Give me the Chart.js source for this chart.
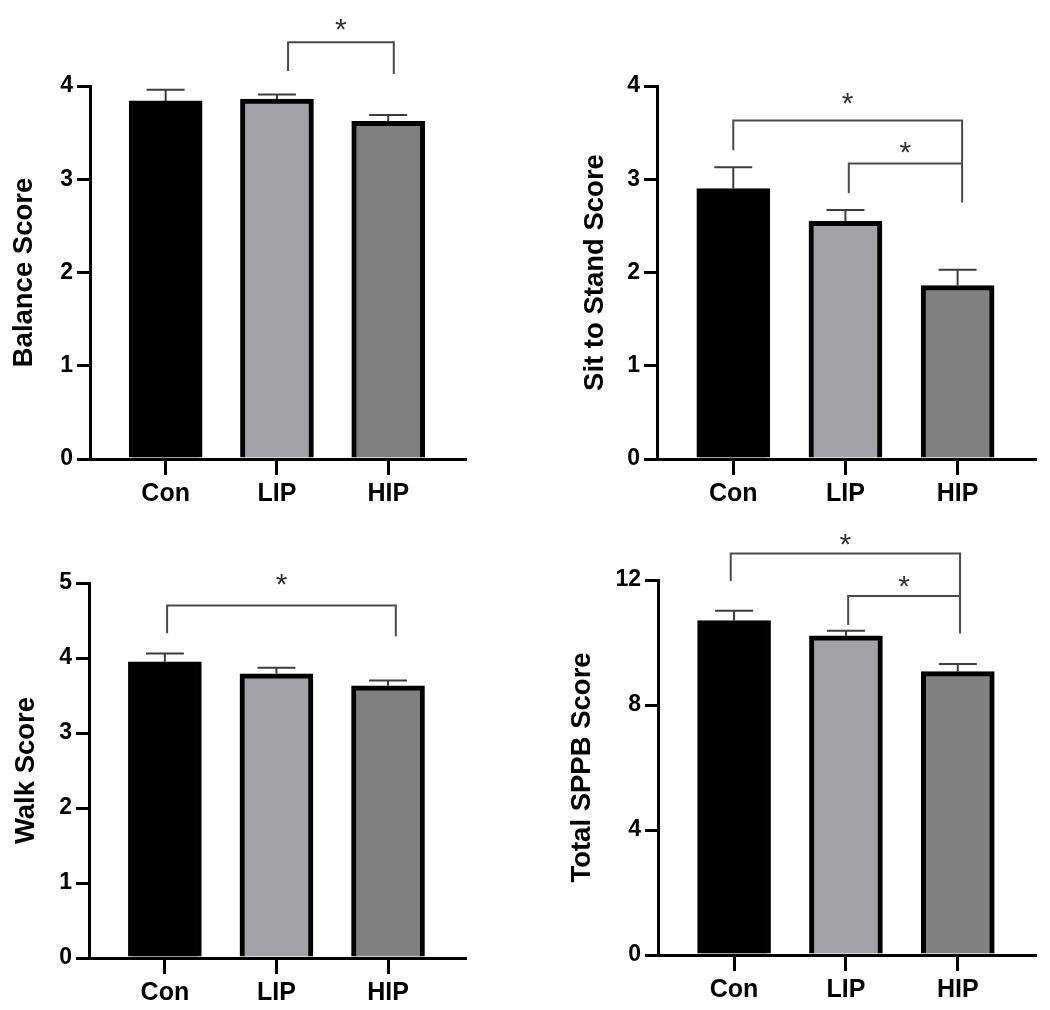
<!DOCTYPE html>
<html>
<head>
<meta charset="utf-8">
<script src="https://cdn.jsdelivr.net/npm/chart.js@4.4.0/dist/chart.umd.min.js"></script>
<style>
  body { margin: 0; background: #fff; }
  #wrap { position: relative; width: 1050px; height: 1010px; }
  canvas { position: absolute; }
</style>
</head>
<body>
<div id="wrap">
  <canvas id="balance" width="480" height="515" style="left:0;top:0"></canvas>
  <canvas id="sit" width="479" height="515" style="left:571px;top:0"></canvas>
  <canvas id="walk" width="480" height="495" style="left:0;top:515px"></canvas>
  <canvas id="sppb" width="490" height="495" style="left:560px;top:515px"></canvas>
</div>
<script>
// groups
const groups = ['Con', 'LIP', 'HIP'];
const barColors = ['#000000', '#a2a2a6', '#808080'];

// means and SEM
const balanceMean = [3.84, 3.86, 3.62];
const balanceSem  = [0.12, 0.05, 0.07];
const sitMean  = [2.90, 2.55, 1.86];
const sitSem   = [0.23, 0.12, 0.17];
const walkMean = [3.95, 3.79, 3.63];
const walkSem  = [0.11, 0.08, 0.07];
const sppbMean = [10.70, 10.21, 9.07];
const sppbSem  = [0.32, 0.17, 0.24];

// significance brackets (group positions, heights in score units)
const balanceSig = [{ a: 1.1, b: 2.05, y: 4.47, ya: 4.16, yb: 4.13, star: 4.71 }];
const sitSig = [
  { a: 0, b: 2.04, y: 3.63, ya: 3.31, yb: 2.75, star: 3.91 },
  { a: 1.03, b: 2.04, y: 3.17, ya: 2.85, yb: 3.17, star: 3.39 }
];
const walkSig = [{ a: 0.02, b: 2.07, y: 4.70, ya: 4.33, yb: 4.29, star: 5.11 }];
const sppbSig = [
  { a: -0.03, b: 2.02, y: 12.85, ya: 11.97, yb: 10.29, star: 13.44 },
  { a: 1.02, b: 2.02, y: 11.49, ya: 10.56, yb: 11.49, star: 12.1 }
];

const FONT = "'Liberation Sans', Arial, sans-serif";

// error bars + brackets
const sigPlugin = {
  id: 'sig',
  afterDatasetsDraw(chart, args, opts) {
    const ctx = chart.ctx;
    const xs = chart.scales.x, ys = chart.scales.y;
    const meta = chart.getDatasetMeta(0);
    ctx.save();
    ctx.strokeStyle = '#3c3c3c';
    ctx.lineWidth = 2;
    opts.sem.forEach((s, i) => {
      const bar = meta.data[i];
      const yT = ys.getPixelForValue(opts.mean[i] + s);
      ctx.beginPath();
      ctx.moveTo(bar.x, bar.y);
      ctx.lineTo(bar.x, yT);
      ctx.moveTo(bar.x - 19, yT);
      ctx.lineTo(bar.x + 19, yT);
      ctx.stroke();
    });
    ctx.strokeStyle = '#4a4a4a';
    ctx.fillStyle = '#333';
    ctx.font = '30px ' + FONT;
    ctx.textAlign = 'center';
    ctx.textBaseline = 'alphabetic';
    opts.brackets.forEach(b => {
      const xa = xs.getPixelForValue(b.a), xb = xs.getPixelForValue(b.b);
      const y = ys.getPixelForValue(b.y);
      ctx.beginPath();
      ctx.moveTo(xa, ys.getPixelForValue(b.ya));
      ctx.lineTo(xa, y);
      ctx.lineTo(xb, y);
      ctx.lineTo(xb, ys.getPixelForValue(b.yb));
      ctx.stroke();
      ctx.fillText('*', (xa + xb) / 2, ys.getPixelForValue(b.star) + 19);
    });
    ctx.restore();
  }
};

function makeChart(id, title, mean, sem, brackets, yMax, yStep, lay) {
  new Chart(document.getElementById(id), {
    type: 'bar',
    data: {
      datasets: [{
        data: mean.map((v, i) => ({ x: i, y: v })),
        backgroundColor: barColors,
        borderColor: '#000',
        borderWidth: 5,
        borderSkipped: 'bottom',
        barThickness: 73
      }]
    },
    options: {
      responsive: false,
      animation: false,
      layout: { padding: { top: lay.top, right: lay.right, left: 0, bottom: 0 } },
      plugins: {
        legend: { display: false },
        tooltip: { enabled: false },
        sig: { mean: mean, sem: sem, brackets: brackets }
      },
      scales: {
        x: {
          type: 'linear',
          offset: false,
          min: -0.68,
          max: 2.69,
          afterBuildTicks: s => { s.ticks = [0, 1, 2].map(v => ({ value: v })); },
          afterFit: s => { s.height = lay.xh; },
          ticks: {
            callback: v => groups[v],
            color: '#000',
            font: { family: FONT, size: 25, weight: 'bold' },
            padding: 4,
            maxRotation: 0
          },
          grid: { offset: false, drawOnChartArea: false, drawTicks: true, tickLength: 16, lineWidth: 3, color: '#000' },
          border: { display: true, color: '#000', width: 3 }
        },
        y: {
          min: 0,
          max: yMax,
          afterFit: s => { s.width = lay.yw; },
          ticks: {
            stepSize: yStep,
            color: '#000',
            font: { family: FONT, size: 23, weight: 'bold' },
            padding: 4
          },
          grid: { drawOnChartArea: false, drawTicks: true, tickLength: 13, lineWidth: 3, color: '#000' },
          border: { display: true, color: '#000', width: 3 },
          title: {
            display: true,
            text: title,
            color: '#000',
            font: { family: FONT, size: 27.5, weight: 'bold' },
            padding: { top: lay.tp, bottom: 0 }
          }
        }
      }
    },
    plugins: [sigPlugin]
  });
}

makeChart('balance', 'Balance Score', balanceMean, balanceSem, balanceSig, 4, 1,
  { top: 86, right: 15, xh: 56, yw: 90, tp: 8 });
makeChart('sit', 'Sit to Stand Score', sitMean, sitSem, sitSig, 4, 1,
  { top: 86, right: 15, xh: 56, yw: 86, tp: 8 });
makeChart('walk', 'Walk Score', walkMean, walkSem, walkSig, 5, 1,
  { top: 68, right: 15, xh: 52, yw: 89, tp: 10 });
makeChart('sppb', 'Total SPPB Score', sppbMean, sppbSem, sppbSig, 12, 4,
  { top: 65, right: 15, xh: 55, yw: 98, tp: 6 });
</script>
</body>
</html>
